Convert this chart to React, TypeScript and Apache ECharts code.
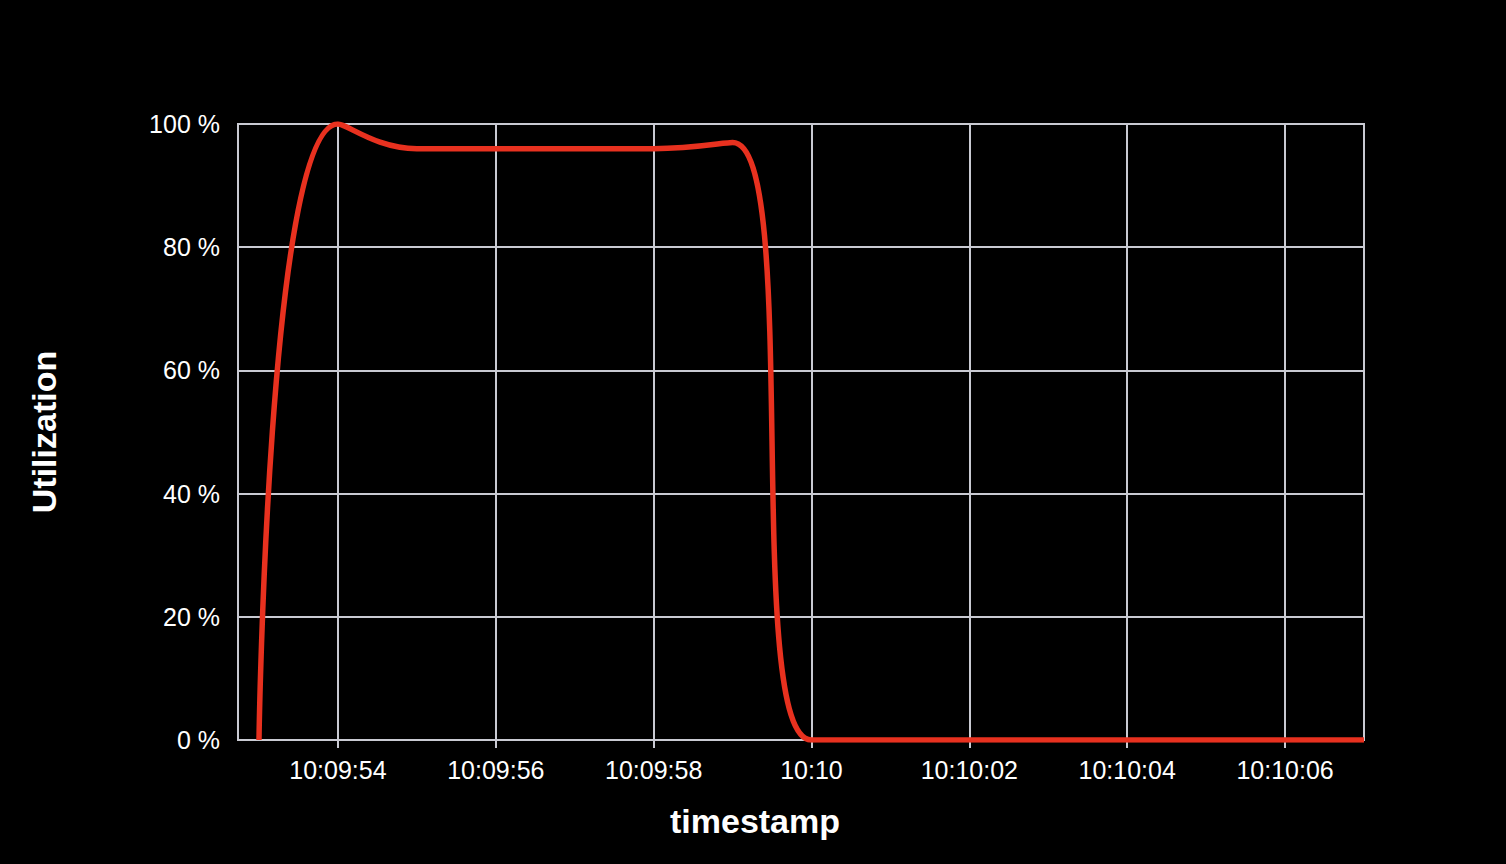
import { useEffect, useRef } from "react";
import * as echarts from "echarts";

// one sample per second, 10:09:53 .. 10:10:07
const TIMES = [
  "10:09:53", "10:09:54", "10:09:55", "10:09:56", "10:09:57", "10:09:58", "10:09:59",
  "10:10:00", "10:10:01", "10:10:02", "10:10:03", "10:10:04", "10:10:05", "10:10:06", "10:10:07",
];
const UTILIZATION = [0, 100, 96, 96, 96, 96, 97, 0, 0, 0, 0, 0, 0, 0, 0];

const AXIS_START = "10:09:52.734";
const AXIS_END = "10:10:07";
const Y_TICKS = [0, 20, 40, 60, 80, 100];

const FONT = '"Liberation Sans", Arial, Helvetica, sans-serif';
const GRID_COLOR = "#c9cad2";
const LINE_COLOR = "#e8311f";

function toMs(t: string) {
  const [h, m, s] = t.split(":");
  const sec = parseFloat(s);
  const d = new Date(2024, 0, 1, Number(h), Number(m), Math.floor(sec));
  return d.getTime() + Math.round((sec - Math.floor(sec)) * 1000);
}

const pad = (n: number) => String(n).padStart(2, "0");

export default function App() {
  const chartRef = useRef<HTMLDivElement>(null);

  useEffect(() => {
    if (!chartRef.current) return;
    const chart = echarts.init(chartRef.current, null, { renderer: "svg" });

    const option: echarts.EChartsOption = {
      animation: false,
      backgroundColor: "#000",
      grid: {
        left: 238,
        right: 142,
        top: 124,
        bottom: 124,
        show: true,
        borderColor: GRID_COLOR,
        borderWidth: 2,
      },
      xAxis: {
        type: "time",
        min: toMs(AXIS_START),
        max: toMs(AXIS_END),
        name: "timestamp",
        nameLocation: "middle",
        nameGap: 64,
        nameTextStyle: {
          color: "#fff",
          fontFamily: FONT,
          fontWeight: "bold",
          fontSize: 34,
          padding: [0, 92, 0, 0],
        },
        axisLine: { show: true, lineStyle: { color: GRID_COLOR, width: 2 } },
        axisTick: { show: true, length: 8, lineStyle: { color: GRID_COLOR, width: 2 } },
        splitLine: { show: true, lineStyle: { color: GRID_COLOR, width: 2 } },
        axisLabel: {
          color: "#fff",
          fontFamily: FONT,
          fontSize: 25,
          margin: 17,
          showMinLabel: false,
          showMaxLabel: false,
          formatter: (v: number) => {
            const d = new Date(v);
            const hm = `${pad(d.getHours())}:${pad(d.getMinutes())}`;
            return d.getSeconds() === 0 ? hm : `${hm}:${pad(d.getSeconds())}`;
          },
        },
      },
      yAxis: {
        type: "value",
        min: Y_TICKS[0],
        max: Y_TICKS[Y_TICKS.length - 1],
        interval: Y_TICKS[1] - Y_TICKS[0],
        name: "Utilization",
        nameLocation: "middle",
        nameGap: 177,
        nameTextStyle: {
          color: "#fff",
          fontFamily: FONT,
          fontWeight: "bold",
          fontSize: 34,
        },
        axisLine: { show: true, lineStyle: { color: GRID_COLOR, width: 2 } },
        axisTick: { show: false },
        splitLine: { show: true, lineStyle: { color: GRID_COLOR, width: 2 } },
        axisLabel: {
          color: "#fff",
          fontFamily: FONT,
          fontSize: 25,
          margin: 18,
          formatter: "{value} %",
        },
      },
      series: [
        {
          type: "line",
          data: TIMES.map((t, i) => [toMs(t), UTILIZATION[i]]),
          smooth: true,
          showSymbol: false,
          symbol: "none",
          lineStyle: { color: LINE_COLOR, width: 5.5 },
        },
      ],
    };

    chart.setOption(option);
    return () => chart.dispose();
  }, []);

  return (
    <>
      <style>{"body{margin:0;background:#000}"}</style>
      <div ref={chartRef} style={{ width: 1506, height: 864 }} />
    </>
  );
}
